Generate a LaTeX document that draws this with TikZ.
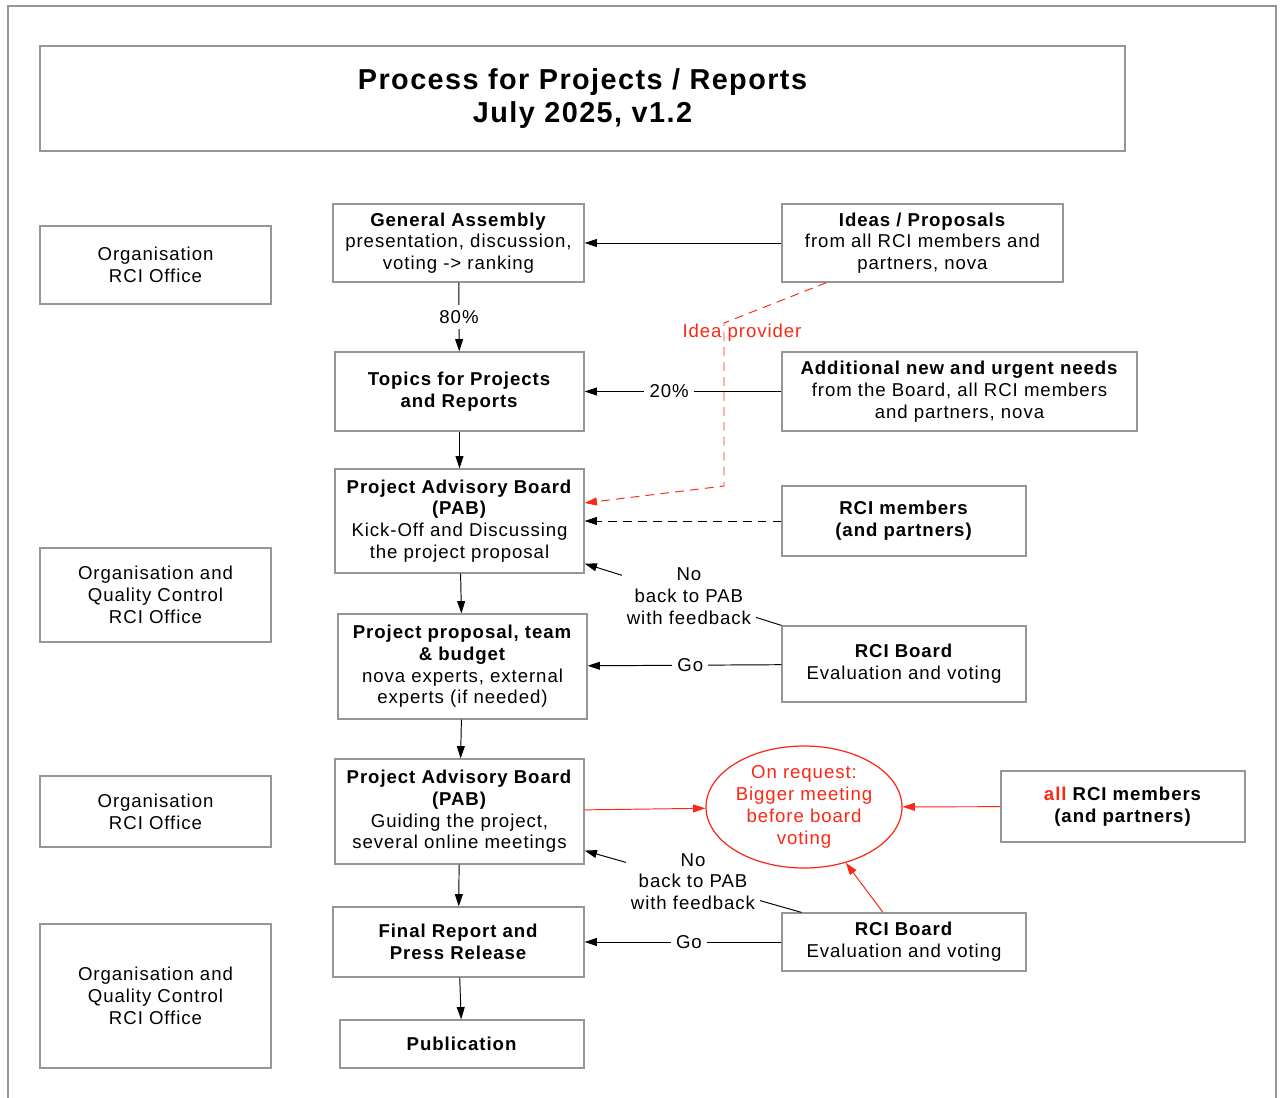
\documentclass[tikz,border=0pt]{standalone}
\usepackage{fontspec}
\setmainfont{Liberation Sans}[LetterSpace=5]
\usetikzlibrary{arrows.meta,calc,shapes.geometric}
\definecolor{rcired}{RGB}{250,40,20}
\definecolor{boxgray}{RGB}{150,150,150}

\begin{document}
\begin{tikzpicture}[x=0.02cm,y=-0.02cm,
	every node/.style={font=\fontsize{10.6}{12.4}\selectfont},
	box/.style={draw=boxgray,line width=0.7pt,align=center,inner sep=2pt},
	wh/.style 2 args={minimum width=#1*0.02cm,minimum height=#2*0.02cm},
	arr/.style={-{Triangle[length=7pt,width=4.5pt]},line width=0.55pt},
	lbl/.style={fill=white,align=center,inner sep=3pt}]
\useasboundingbox (0,0) rectangle (1282,1098);
\draw[boxgray,line width=0.7pt] (8,6) rectangle (1276,1130);
%
\node[box,wh={1085}{105},font=\fontsize{16.4}{18.7}\selectfont\bfseries] (title) at (582.5,98.5) {Process for Projects / Reports\\July 2025, v1.2};
% left column
\node[box,wh={231}{78}] (org1) at (155.5,265) {Organisation\\RCI Office};
\node[box,wh={231}{94}] (org2) at (155.5,595) {Organisation and\\Quality Control\\RCI Office};
\node[box,wh={231}{71}] (org3) at (155.5,811.5) {Organisation\\RCI Office};
\node[box,wh={231}{144}] (org4) at (155.5,996) {Organisation and\\Quality Control\\RCI Office};
% main column
\node[box,wh={251}{78}] (ga) at (458.5,243) {\textbf{General Assembly}\\presentation, discussion,\\voting -> ranking};
\node[box,wh={249}{79}] (topics) at (459.5,391.5) {\textbf{Topics for Projects}\\\textbf{and Reports}};
\node[box,wh={249}{104}] (pab1) at (459.5,521) {\textbf{Project Advisory Board}\\\textbf{(PAB)}\\Kick-Off and Discussing\\the project proposal};
\node[box,wh={249}{105}] (proposal) at (462.5,666.5) {\textbf{Project proposal, team}\\\textbf{\& budget}\\nova experts, external\\experts (if needed)};
\node[box,wh={249}{105}] (pab2) at (459.5,811.5) {\textbf{Project Advisory Board}\\\textbf{(PAB)}\\Guiding the project,\\several online meetings};
\node[box,wh={251}{70}] (final) at (458.5,942) {\textbf{Final Report and}\\\textbf{Press Release}};
\node[box,wh={244}{48}] (pub) at (462,1044) {\textbf{Publication}};
% right column
\node[box,wh={281}{78}] (ideas) at (922.5,243) {\textbf{Ideas / Proposals}\\from all RCI members and\\partners, nova};
\node[box,wh={355}{79}] (needs) at (959.5,391.5) {\textbf{Additional new and urgent needs}\\from the Board, all RCI members\\and partners, nova};
\node[box,wh={244}{70}] (members) at (904,521) {\textbf{RCI members}\\\textbf{(and partners)}};
\node[box,wh={244}{76}] (board1) at (904,664) {\textbf{RCI Board}\\Evaluation and voting};
\node[box,wh={244}{71}] (allmem) at (1123,806.5) {\textbf{\textcolor{rcired}{all} RCI members}\\\textbf{(and partners)}};
\node[box,wh={244}{58}] (board2) at (904,942) {\textbf{RCI Board}\\Evaluation and voting};
%
\draw[arr] (ideas) -- (ga);
\draw[arr] (ga) -- node[lbl]{80\%} (topics);
\draw[arr] (needs) -- node[lbl,pos=0.57]{20\%} (topics);
\draw[arr] (topics) -- (pab1);
\draw[arr] (pab1) -- (proposal);
\draw[arr] (proposal) -- (pab2);
\draw[arr] (pab2) -- (final);
\draw[arr] (final) -- (pub);
\draw[arr,dash pattern=on 5pt off 3.5pt] (members) -- (pab1);
\draw[arr] (board1.north west) -- node[lbl,pos=0.47]{No\\back to PAB\\with feedback} ([yshift=0.2cm]pab1.south east);
\draw[arr] (board1) -- node[lbl,pos=0.47]{Go} (proposal);
\draw[arr] ($(board2.north west)+(20,0)$) -- node[lbl]{No\\back to PAB\\with feedback} ([yshift=0.28cm]pab2.south east);
\draw[arr] (board2) -- node[lbl,pos=0.47]{Go} (final);
% idea provider
\coordinate (bend1) at (724,323);
\coordinate (bend2) at (724,486);
\draw[arr,rcired,dash pattern=on 5pt off 3.5pt] ($(ideas.south)+(-96,0)$) -- (bend1) -- (bend2) -- ($(pab1.east)+(0,-18)$);
\node[text=rcired] (idealbl) at (742,333) {Idea provider};
% bigger meeting
\node[ellipse,draw=rcired,text=rcired,line width=0.7pt,wh={196}{122},align=center,inner sep=0pt] (bigmeet) at (804,807) {On request:\\Bigger meeting\\before board\\voting};
\draw[arr,rcired] (pab2) -- (bigmeet);
\draw[arr,rcired] (allmem) -- (bigmeet);
\draw[arr,rcired] ($(board2.north)+(-21,0)$) -- (bigmeet);
\end{tikzpicture}
\end{document}
